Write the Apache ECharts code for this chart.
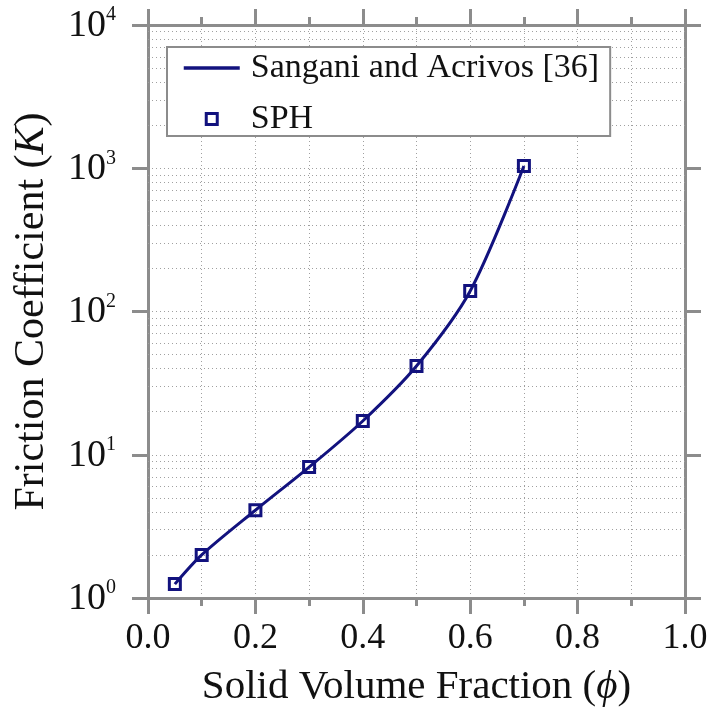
<!DOCTYPE html>
<html>
<head>
<meta charset="utf-8">
<script src="https://cdn.jsdelivr.net/npm/echarts@6/dist/echarts.min.js"></script>
<style>
  html, body { margin: 0; padding: 0; background: #fff; }
  #chart { width: 713px; height: 713px; }
</style>
</head>
<body>
<div id="chart"></div>
<script>
// Friction coefficient K against solid volume fraction phi
const phiTheory = [0.05, 0.1, 0.2, 0.3, 0.4, 0.5, 0.6, 0.7];
const kTheory   = [1.25, 2.0, 4.1, 8.2, 17.2, 41.6, 139, 1037];

const phiSPH = [0.05, 0.1, 0.2, 0.3, 0.4, 0.5, 0.6, 0.7];
const kSPH   = [1.25, 2.0, 4.1, 8.2, 17.2, 41.6, 139, 1037];

// minor log grid values (2..9 in every decade)
const minorGridK = [2, 3, 4, 5, 6, 7, 8, 9,
                    20, 30, 40, 50, 60, 70, 80, 90,
                    200, 300, 400, 500, 600, 700, 800, 900,
                    2000, 3000, 4000, 5000, 6000, 7000, 8000, 9000];

const xTickValues = [0.0, 0.2, 0.4, 0.6, 0.8, 1.0];
const seriesNames = ['Sangani and Acrivos [36]', 'SPH'];

const NAVY = '#12127e';
const AXIS = '#8c8c8c';
const GRID = '#a0a0a0';
const FONT = '"Liberation Serif", "DejaVu Serif", serif';

const tickLabelStyle = { fontFamily: FONT, fontSize: 36, color: '#111' };

function xAxisCfg(pos) {
  const main = pos === 'bottom';
  return {
    type: 'value', position: pos, min: 0, max: 1, interval: 0.2,
    name: main ? '{n|Solid Volume Fraction (}{i|\u03D5}{n|)}' : '',
    nameLocation: 'middle', nameGap: 69,
    nameTextStyle: {
      rich: {
        n: { fontFamily: FONT, fontSize: 41, color: '#111' },
        i: { fontFamily: FONT, fontSize: 41, fontStyle: 'italic', color: '#111' }
      }
    },
    axisLine: { show: true, onZero: false, lineStyle: { color: AXIS, width: 3 } },
    axisTick: { show: true, inside: false, length: 16, lineStyle: { color: AXIS, width: 3 } },
    minorTick: { show: true, splitNumber: 2, length: 8, lineStyle: { color: AXIS, width: 3 } },
    axisLabel: {
      show: main, margin: 23, ...tickLabelStyle,
      formatter: v => xTickValues.some(t => Math.abs(t - v) < 1e-9) ? v.toFixed(1) : ''
    },
    splitLine: { show: main, lineStyle: { color: GRID, width: 1, type: [1, 3] } },
    minorSplitLine: { show: main, lineStyle: { color: GRID, width: 1, type: [1, 3] } }
  };
}

function yAxisCfg(pos) {
  const main = pos === 'left';
  return {
    type: 'log', logBase: 10, position: pos, min: 1, max: 10000,
    name: main ? '{n|Friction Coefficient (}{i|K}{n|)}' : '',
    nameLocation: 'middle', nameGap: 95, nameRotate: 90,
    nameTextStyle: {
      rich: {
        n: { fontFamily: FONT, fontSize: 42, color: '#111' },
        i: { fontFamily: FONT, fontSize: 42, fontStyle: 'italic', color: '#111' }
      }
    },
    axisLine: { show: true, onZero: false, lineStyle: { color: AXIS, width: 3 } },
    axisTick: { show: true, inside: false, length: 16, lineStyle: { color: AXIS, width: 3 } },
    minorTick: { show: false },
    axisLabel: {
      show: main, margin: 32,
      formatter: v => '{b|10}{s|' + Math.round(Math.log10(v)) + '}',
      rich: {
        b: { fontFamily: FONT, fontSize: 38, lineHeight: 40, color: '#111', verticalAlign: 'bottom' },
        s: { fontFamily: FONT, fontSize: 20, lineHeight: 20, color: '#111', verticalAlign: 'top' }
      }
    },
    splitLine: { show: main, lineStyle: { color: GRID, width: 1, type: [1, 3] } }
  };
}

const chart = echarts.init(document.getElementById('chart'), null, { renderer: 'canvas' });

chart.setOption({
  animation: false,
  backgroundColor: '#fff',
  grid: { left: 148, right: 28, top: 25, bottom: 115, containLabel: false },
  xAxis: [xAxisCfg('bottom'), xAxisCfg('top')],
  yAxis: [yAxisCfg('left'), yAxisCfg('right')],
  legend: {
    orient: 'vertical',
    left: 167, top: 47,
    padding: [4, 11, 0, 15],
    itemGap: 17,
    itemWidth: 56, itemHeight: 11,
    backgroundColor: '#fff',
    borderColor: AXIS, borderWidth: 2,
    textStyle: { fontFamily: FONT, fontSize: 34, color: '#111', padding: [0, 0, 0, 6] },
    data: [
      { name: seriesNames[0], itemStyle: { opacity: 0 }, lineStyle: { width: 3.5 } },
      { name: seriesNames[1], icon: 'path://M0,0L10,0L10,10L0,10Z', itemStyle: { borderWidth: 3, opacity: 1 } }
    ],
    symbolKeepAspect: true
  },
  series: [
    {
      name: seriesNames[0],
      type: 'line',
      xAxisIndex: 0, yAxisIndex: 0,
      data: phiTheory.map((p, i) => [p, kTheory[i]]),
      smooth: 0.3,
      symbol: 'none',
      lineStyle: { color: NAVY, width: 3 },
      itemStyle: { color: NAVY },
      z: 3,
      markLine: {
        silent: true,
        symbol: 'none',
        label: { show: false },
        lineStyle: { color: GRID, width: 1, type: [1, 3] },
        animation: false,
        z: 1,
        data: minorGridK.map(k => ({ yAxis: k }))
      }
    },
    {
      name: seriesNames[1],
      type: 'scatter',
      xAxisIndex: 0, yAxisIndex: 0,
      data: phiSPH.map((p, i) => [p, kSPH[i]]),
      symbol: 'rect',
      symbolSize: 11,
      itemStyle: { color: 'rgba(255,255,255,0)', borderColor: NAVY, borderWidth: 3, opacity: 1 },
      z: 4
    }
  ]
});
</script>
</body>
</html>
